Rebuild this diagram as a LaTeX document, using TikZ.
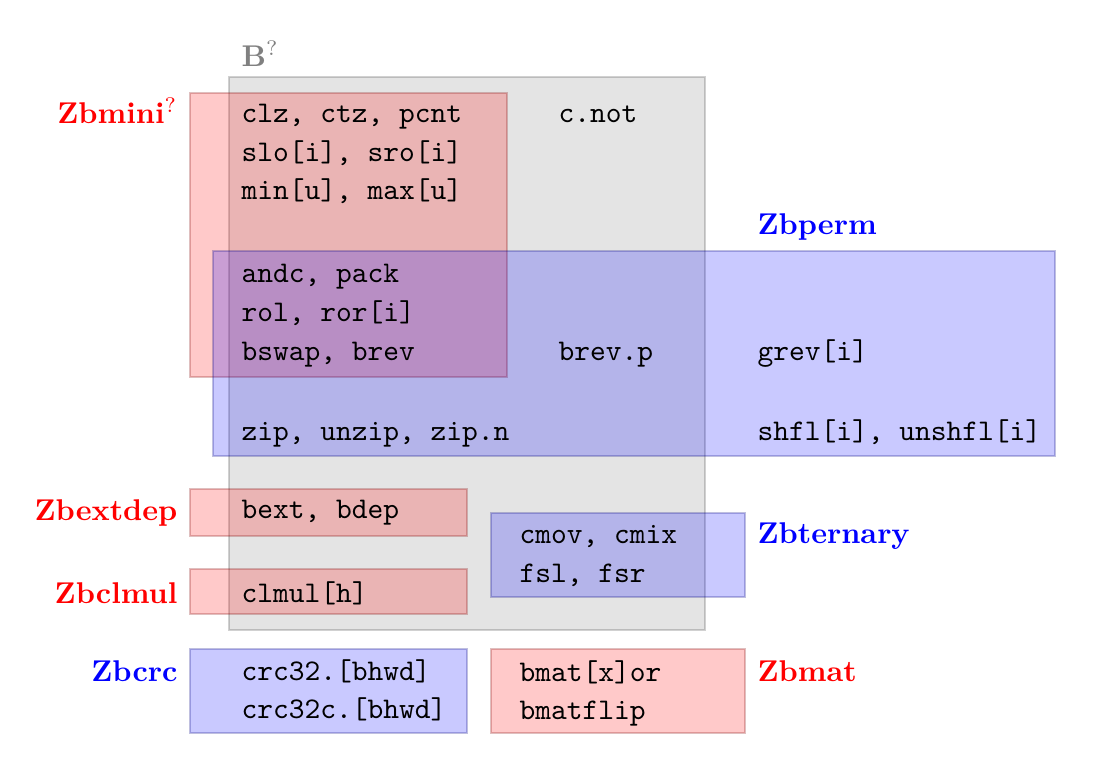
\documentclass[tikz,border=0pt]{standalone}
\begin{document}
\begin{tikzpicture}[x=0.3333pt,y=-0.3333pt,
  graybox/.style={fill=black,fill opacity=0.105,draw=black,draw opacity=0.18,line width=0.4pt},
  redbox/.style={fill=red,fill opacity=0.21,draw=red!50!black,draw opacity=0.25,line width=0.4pt},
  bluebox/.style={fill=blue,fill opacity=0.21,draw=blue!50!black,draw opacity=0.25,line width=0.4pt},
  op/.style={anchor=base west,inner sep=0pt,font=\ttfamily},
  lblL/.style={anchor=base east,inner sep=0pt,font=\bfseries},
  lblR/.style={anchor=base west,inner sep=0pt,font=\bfseries}]
\useasboundingbox (0,0) rectangle (1095,774);
% boxes
\draw[graybox] (229,77) rectangle (705,630);
\draw[redbox] (190,93) rectangle (507,377);
\draw[bluebox] (213,251) rectangle (1055,456);
\draw[redbox] (190,489) rectangle (467,536);
\draw[redbox] (190,569) rectangle (467,614);
\draw[bluebox] (491,513) rectangle (745,597);
\draw[bluebox] (190,649) rectangle (467,733);
\draw[redbox] (491,649) rectangle (745,733);
% labels
\node[anchor=base west,inner sep=0pt,font=\bfseries,text=gray] (lB) at (241,66) {B$^{?}$};
\node[lblL,text=red] (lmini) at (178,123) {Zbmini$^{?}$};
\node[lblR,text=blue] (lperm) at (757,234) {Zbperm};
\node[lblL,text=red] (lextdep) at (178,520) {Zbextdep};
\node[lblR,text=blue] (lternary) at (757,543) {Zbternary};
\node[lblL,text=red] (lclmul) at (178,603) {Zbclmul};
\node[lblL,text=blue] (lcrc) at (178,681) {Zbcrc};
\node[lblR,text=red] (lmat) at (757,681) {Zbmat};
% ops
\node[op] (o1) at (241,122) {clz, ctz, pcnt};
\node[op] (o2) at (241,161) {slo[i], sro[i]};
\node[op] (o3) at (241,199) {min[u], max[u]};
\node[op] (o4) at (558,122) {c.not};
\node[op] (o5) at (241,282) {andc, pack};
\node[op] (o6) at (241,321) {rol, ror[i]};
\node[op] (o7) at (241,360) {bswap, brev};
\node[op] (o8) at (558,360) {brev.p};
\node[op] (o9) at (757,360) {grev[i]};
\node[op] (o10) at (241,440) {zip, unzip, zip.n};
\node[op] (o11) at (757,440) {shfl[i], unshfl[i]};
\node[op] (o12) at (241,518) {bext, bdep};
\node[op] (o13) at (241,602) {clmul[h]};
\node[op] (o14) at (519,543) {cmov, cmix};
\node[op] (o15) at (519,582) {fsl, fsr};
\node[op] (o16) at (241,680) {crc32.[bhwd]};
\node[op] (o17) at (241,718) {crc32c.[bhwd]};
\node[op] (o18) at (519,681) {bmat[x]or};
\node[op] (o19) at (519,719) {bmatflip};
\end{tikzpicture}
\end{document}
